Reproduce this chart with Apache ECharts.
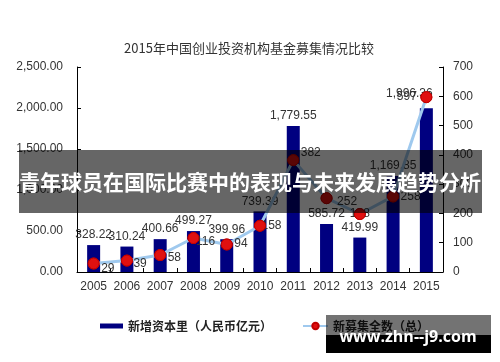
<!DOCTYPE html>
<html><head><meta charset="utf-8">
<script src="https://cdn.jsdelivr.net/npm/echarts@6/dist/echarts.min.js"></script>
<style>html,body{margin:0;padding:0;background:#fff}#c{width:500px;height:362px}</style>
</head><body><div id="c"></div>
<script>
const chartTitle = '2015年中国创业投资机构基金募集情况比较';
const years = ['2005','2006','2007','2008','2009','2010','2011','2012','2013','2014','2015'];
const capital = [328.22, 310.24, 400.66, 499.27, 399.96, 739.39, 1779.55, 585.72, 419.99, 1169.85, 1996.36];
const funds = [29, 39, 58, 116, 94, 158, 382, 252, 198, 258, 597];
const leftAxis = {min: 0, max: 2500, interval: 500};
const rightAxis = {min: 0, max: 700, interval: 100};
const seriesNames = ['新增资本里（人民币亿元）', '新募集全数（总）'];
const bannerText = '青年球员在国际比赛中的表现与未来发展趋势分析';
const watermarkText = 'www.zhn--j9.com';

// label placement tweaks (not data)
const barLabelOffsets = [[0,0],[0,0],[0,0],[0,0],[0,0],[0,0],[0,0],[0,0],[0,0],[0,0],[-17,-5]];
const fundLabelPos = ['right','right','right','right','right','right','right','right','inside','right','left'];
const fundLabelOffsets = [[7,5],[6,3],[7,3],[2,4],[7,-1],[1,0],[7,-7],[10,3],[0,0],[7,0],[-9,0]];

const LAT = 'Liberation Sans, Arial, sans-serif';
const CJK = 'Noto Sans CJK SC, sans-serif';
const fmt2 = v => Number(v).toLocaleString('en-US', {minimumFractionDigits: 2, maximumFractionDigits: 2});
const markerStyle = {color: '#e01010', borderColor: '#c00000', borderWidth: 1, opacity: 1};

const chart = echarts.init(document.getElementById('c'), null, {renderer: 'canvas'});
chart.setOption({
  animation: false,
  backgroundColor: '#fff',
  title: {
    text: chartTitle, left: 244, top: 37, textAlign: 'center',
    textStyle: {fontFamily: CJK, fontSize: 13, fontWeight: 'normal', color: '#333'}
  },
  grid: {left: 77, right: 57, top: 67, bottom: 90},
  legend: [
    {data: [seriesNames[0]], left: 95, top: 315, itemWidth: 23, itemHeight: 5, icon: 'rect',
     textStyle: {fontFamily: CJK, fontSize: 12, fontWeight: 'bold', color: '#222'}},
    {data: [seriesNames[1]], left: 297, top: 315, itemWidth: 25, itemHeight: 8,
     textStyle: {fontFamily: CJK, fontSize: 12, fontWeight: 'bold', color: '#222'}}
  ],
  xAxis: {
    type: 'category', data: years,
    axisLine: {lineStyle: {color: '#000', width: 1}},
    axisTick: {show: true, inside: true, length: 4, lineStyle: {color: '#000'}},
    axisLabel: {interval: 0, fontFamily: LAT, fontSize: 12, color: '#333', margin: 9}
  },
  yAxis: [
    {type: 'value', min: leftAxis.min, max: leftAxis.max, interval: leftAxis.interval,
     splitLine: {show: false},
     axisLine: {show: true, lineStyle: {color: '#000', width: 1}},
     axisTick: {show: true, inside: true, length: 4, lineStyle: {color: '#000'}},
     axisLabel: {fontFamily: LAT, fontSize: 12, color: '#333', margin: 14, formatter: fmt2}},
    {type: 'value', min: rightAxis.min, max: rightAxis.max, interval: rightAxis.interval, position: 'right',
     splitLine: {show: false},
     axisLine: {show: true, lineStyle: {color: '#000', width: 1}},
     axisTick: {show: true, inside: true, length: 4, lineStyle: {color: '#000'}},
     axisLabel: {fontFamily: LAT, fontSize: 12, color: '#333', margin: 10}}
  ],
  series: [
    {
      name: seriesNames[0], type: 'bar', barWidth: 13, z: 2,
      itemStyle: {color: '#000080'},
      data: capital.map((v, i) => ({value: v, label: {offset: barLabelOffsets[i]}})),
      label: {show: true, position: 'top', distance: 4, fontFamily: LAT, fontSize: 12, color: '#333', formatter: p => fmt2(p.value)}
    },
    {
      name: seriesNames[1], type: 'line', yAxisIndex: 1, z: 3,
      data: funds, symbol: 'circle', symbolSize: 11,
      lineStyle: {color: '#9fc9ee', width: 3},
      itemStyle: markerStyle,
      label: {show: false}
    },
    {
      name: 'fundLabels', type: 'scatter', yAxisIndex: 1, z: 4, symbolSize: 1,
      itemStyle: {color: 'rgba(255,255,255,0)', opacity: 1}, silent: true,
      data: funds.map((v, i) => ({value: v, label: {position: fundLabelPos[i], offset: fundLabelOffsets[i]}})),
      label: {show: true, distance: 0, opacity: 1, fontFamily: LAT, fontSize: 12, color: '#333',
              textBorderWidth: 0, formatter: p => String(p.value)}
    },
    {
      name: 'fundMarkers', type: 'scatter', yAxisIndex: 1, z: 5, symbol: 'circle', symbolSize: 11,
      itemStyle: markerStyle, silent: true, data: funds
    }
  ],
  graphic: [
    {type: 'rect', z: 100, shape: {x: 19, y: 150, width: 463, height: 63}, style: {fill: 'rgba(0,0,0,0.6)'}},
    {type: 'text', z: 101, x: 250, y: 182, style: {text: bannerText, fill: '#fff', font: 'bold 21px ' + CJK, align: 'center', verticalAlign: 'middle'}},
    {type: 'rect', z: 100, shape: {x: 326, y: 315, width: 165, height: 20}, style: {fill: 'rgba(0,0,0,0.55)'}},
    {type: 'rect', z: 100, shape: {x: 326, y: 335, width: 165, height: 18}, style: {fill: '#000'}},
    {type: 'text', z: 101, x: 408, y: 337, style: {text: watermarkText, fill: '#fff', font: 'bold 16px Open Sans, DejaVu Sans, sans-serif', align: 'center', verticalAlign: 'middle'}}
  ]
});
</script></body></html>
